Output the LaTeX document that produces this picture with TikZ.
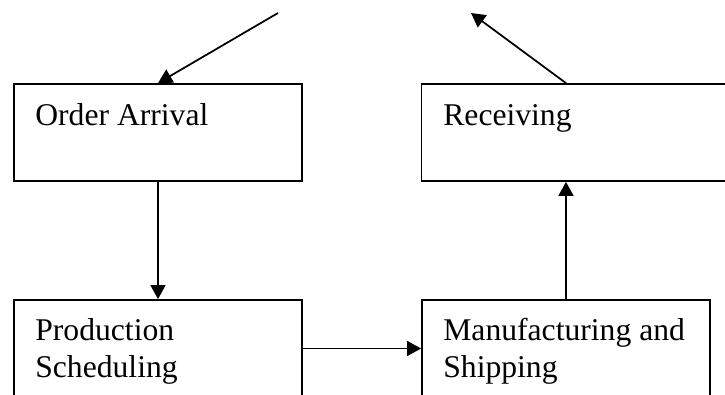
\documentclass[tikz,border=0pt]{standalone}
\usepackage{fontspec}
\setmainfont{Liberation Serif}
\usetikzlibrary{positioning,arrows.meta}

\begin{document}
\begin{tikzpicture}
\tikzstyle{box}=[rectangle, draw=black, line width=1pt, minimum width=5.76cm, minimum height=1.94cm, inner sep=0pt]
\tikzstyle{widebox}=[box, minimum width=6.4cm]
\tikzstyle{txt}=[anchor=base west, inner sep=0pt, align=left, font=\fontsize{18}{21}\selectfont]
\tikzstyle{arrow}=[draw, line width=1pt, -{Triangle[length=8pt,width=8.5pt]}]

\clip (0,0) rectangle (14.5,-7.88);
	\node[box] (order) at (3.16,-2.65) {};
	\node[widebox] (recv) at (11.63,-2.65) {};
	\node[box] (prod) at (3.16,-6.97) {};
	\node[box] (manu) at (11.32,-6.97) {};

	\node[txt] (t_order) at (0.70,-2.50) {Order Arrival};
	\node[txt] (t_recv) at (8.86,-2.50) {Receiving};
	% base of two-line nodes is the last line
	\node[txt] (t_prod) at (0.70,-7.54) {Production\\Scheduling};
	\node[txt] (t_manu) at (8.86,-7.54) {Manufacturing and\\Shipping};

	\coordinate (in) at (5.56,-0.26);
	\coordinate (out) at (9.42,-0.26);

	\path
		(in) edge [arrow] (order.north)
		(order) edge [arrow] (prod)
		(prod) edge [arrow] (manu)
		(manu) edge [arrow] (manu |- recv.south)
		(manu |- recv.north) edge [arrow] (out);
\end{tikzpicture}
\end{document}
